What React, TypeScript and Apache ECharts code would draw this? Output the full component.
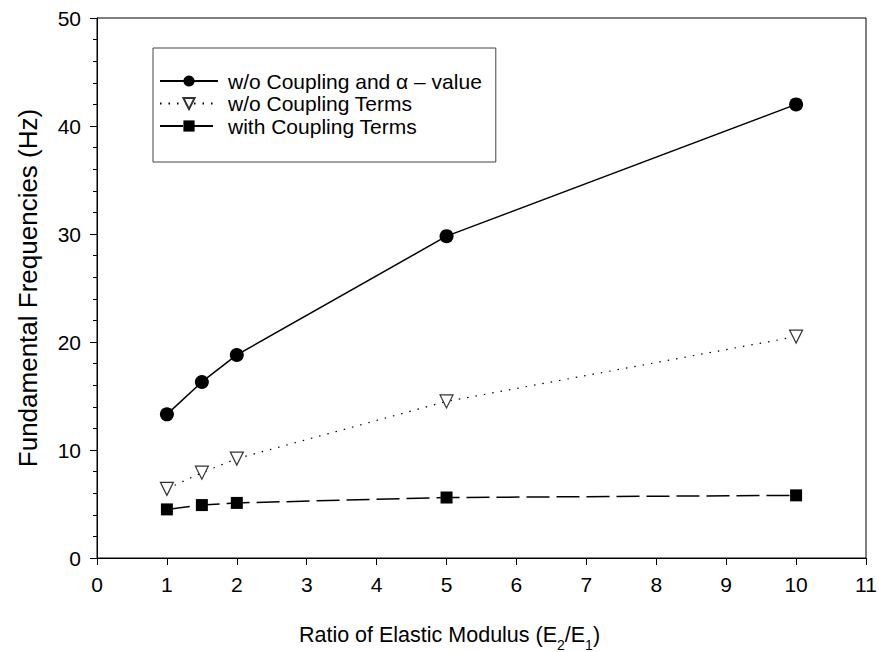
import React, { useEffect, useRef } from "react";
import * as echarts from "echarts";

const xValues = [1, 1.5, 2, 5, 10];
const noCouplingAlpha = [13.3, 16.3, 18.8, 29.8, 42.0];
const noCouplingTerms = [6.4, 7.9, 9.2, 14.5, 20.5];
const withCouplingTerms = [4.5, 4.9, 5.1, 5.6, 5.8];
const seriesNames = [
  "w/o Coupling and α – value",
  "w/o Coupling Terms",
  "with Coupling Terms",
];

const FONT = "'Liberation Sans', Arial, sans-serif";

export default function App() {
  const ref = useRef<HTMLDivElement>(null);
  useEffect(() => {
    if (!ref.current) return;
    const chart = echarts.init(ref.current, undefined, { renderer: "svg" });
    const pair = (ys: number[]) => xValues.map((x, i) => [x, ys[i]]);
    chart.setOption({
      animation: false,
      backgroundColor: "#fff",
      textStyle: { fontFamily: FONT, color: "#000" },
      grid: {
        left: 97,
        right: 13,
        top: 18,
        bottom: 94,
        outerBoundsMode: "none",
        containLabel: false,
        show: true,
        borderColor: "#000",
        borderWidth: 1,
        backgroundColor: "transparent",
      },
      legend: {
        orient: "vertical",
        left: 153,
        top: 48,
        padding: [22, 14, 25, 6],
        borderColor: "#444",
        borderWidth: 1,
        itemWidth: 58,
        itemHeight: 14,
        itemGap: 0.5,
        textStyle: { fontSize: 21, fontFamily: FONT, color: "#000", padding: [0, 0, 0, 5], lineHeight: 22 },
        data: seriesNames,
      },
      xAxis: {
        type: "value",
        min: 0,
        max: 11,
        interval: 1,
        name: "{a|Ratio of Elastic Modulus (E}{s|2}{a|/E}{s|1}{a|)}",
        nameLocation: "middle",
        nameGap: 60,
        nameTextStyle: {
          padding: [0, 64, 0, 0],
          rich: {
            a: { fontSize: 21.5, fontFamily: FONT, color: "#000", lineHeight: 28, verticalAlign: "bottom" },
            s: { fontSize: 14, fontFamily: FONT, color: "#000", lineHeight: 28, verticalAlign: "bottom", padding: [0, 0, -6, 0] },
          },
        },
        axisLine: { show: true, onZero: false, lineStyle: { color: "#000", width: 1 } },
        axisTick: { show: true, length: 7, lineStyle: { color: "#000" } },
        axisLabel: { fontSize: 21, color: "#000", fontFamily: FONT, margin: 16 },
        splitLine: { show: false },
      },
      yAxis: {
        type: "value",
        min: 0,
        max: 50,
        interval: 10,
        name: "Fundamental Frequencies (Hz)",
        nameLocation: "middle",
        nameGap: 56,
        nameTextStyle: { fontSize: 26, fontFamily: FONT, color: "#000" },
        axisLine: { show: true, onZero: false, lineStyle: { color: "#000", width: 1 } },
        axisTick: { show: true, length: 7, lineStyle: { color: "#000" } },
        minorTick: { show: true, splitNumber: 5, length: 4, lineStyle: { color: "#000" } },
        axisLabel: { fontSize: 21, color: "#000", fontFamily: FONT, margin: 16 },
        splitLine: { show: false },
      },
      series: [
        {
          name: seriesNames[0],
          type: "line",
          data: pair(noCouplingAlpha),
          symbol: "circle",
          symbolSize: 14,
          lineStyle: { color: "#000", width: 1.5, type: "solid" },
          itemStyle: { color: "#000" },
        },
        {
          name: seriesNames[1],
          type: "line",
          data: pair(noCouplingTerms),
          symbol: "triangle",
          symbolRotate: 180,
          symbolSize: 13,
          lineStyle: { color: "#000", width: 1.2, type: [1.5, 7] },
          itemStyle: { color: "#fff", borderColor: "#333", borderWidth: 1.2 },
        },
        {
          name: seriesNames[2],
          type: "line",
          data: pair(withCouplingTerms),
          symbol: "rect",
          symbolSize: 12,
          lineStyle: { color: "#000", width: 1.5, type: [23, 7] },
          itemStyle: { color: "#000" },
        },
      ],
    });
    return () => chart.dispose();
  }, []);
  return (
    <div
      ref={ref}
      style={{ position: "fixed", left: 0, top: 0, width: 879, height: 652 }}
    />
  );
}
